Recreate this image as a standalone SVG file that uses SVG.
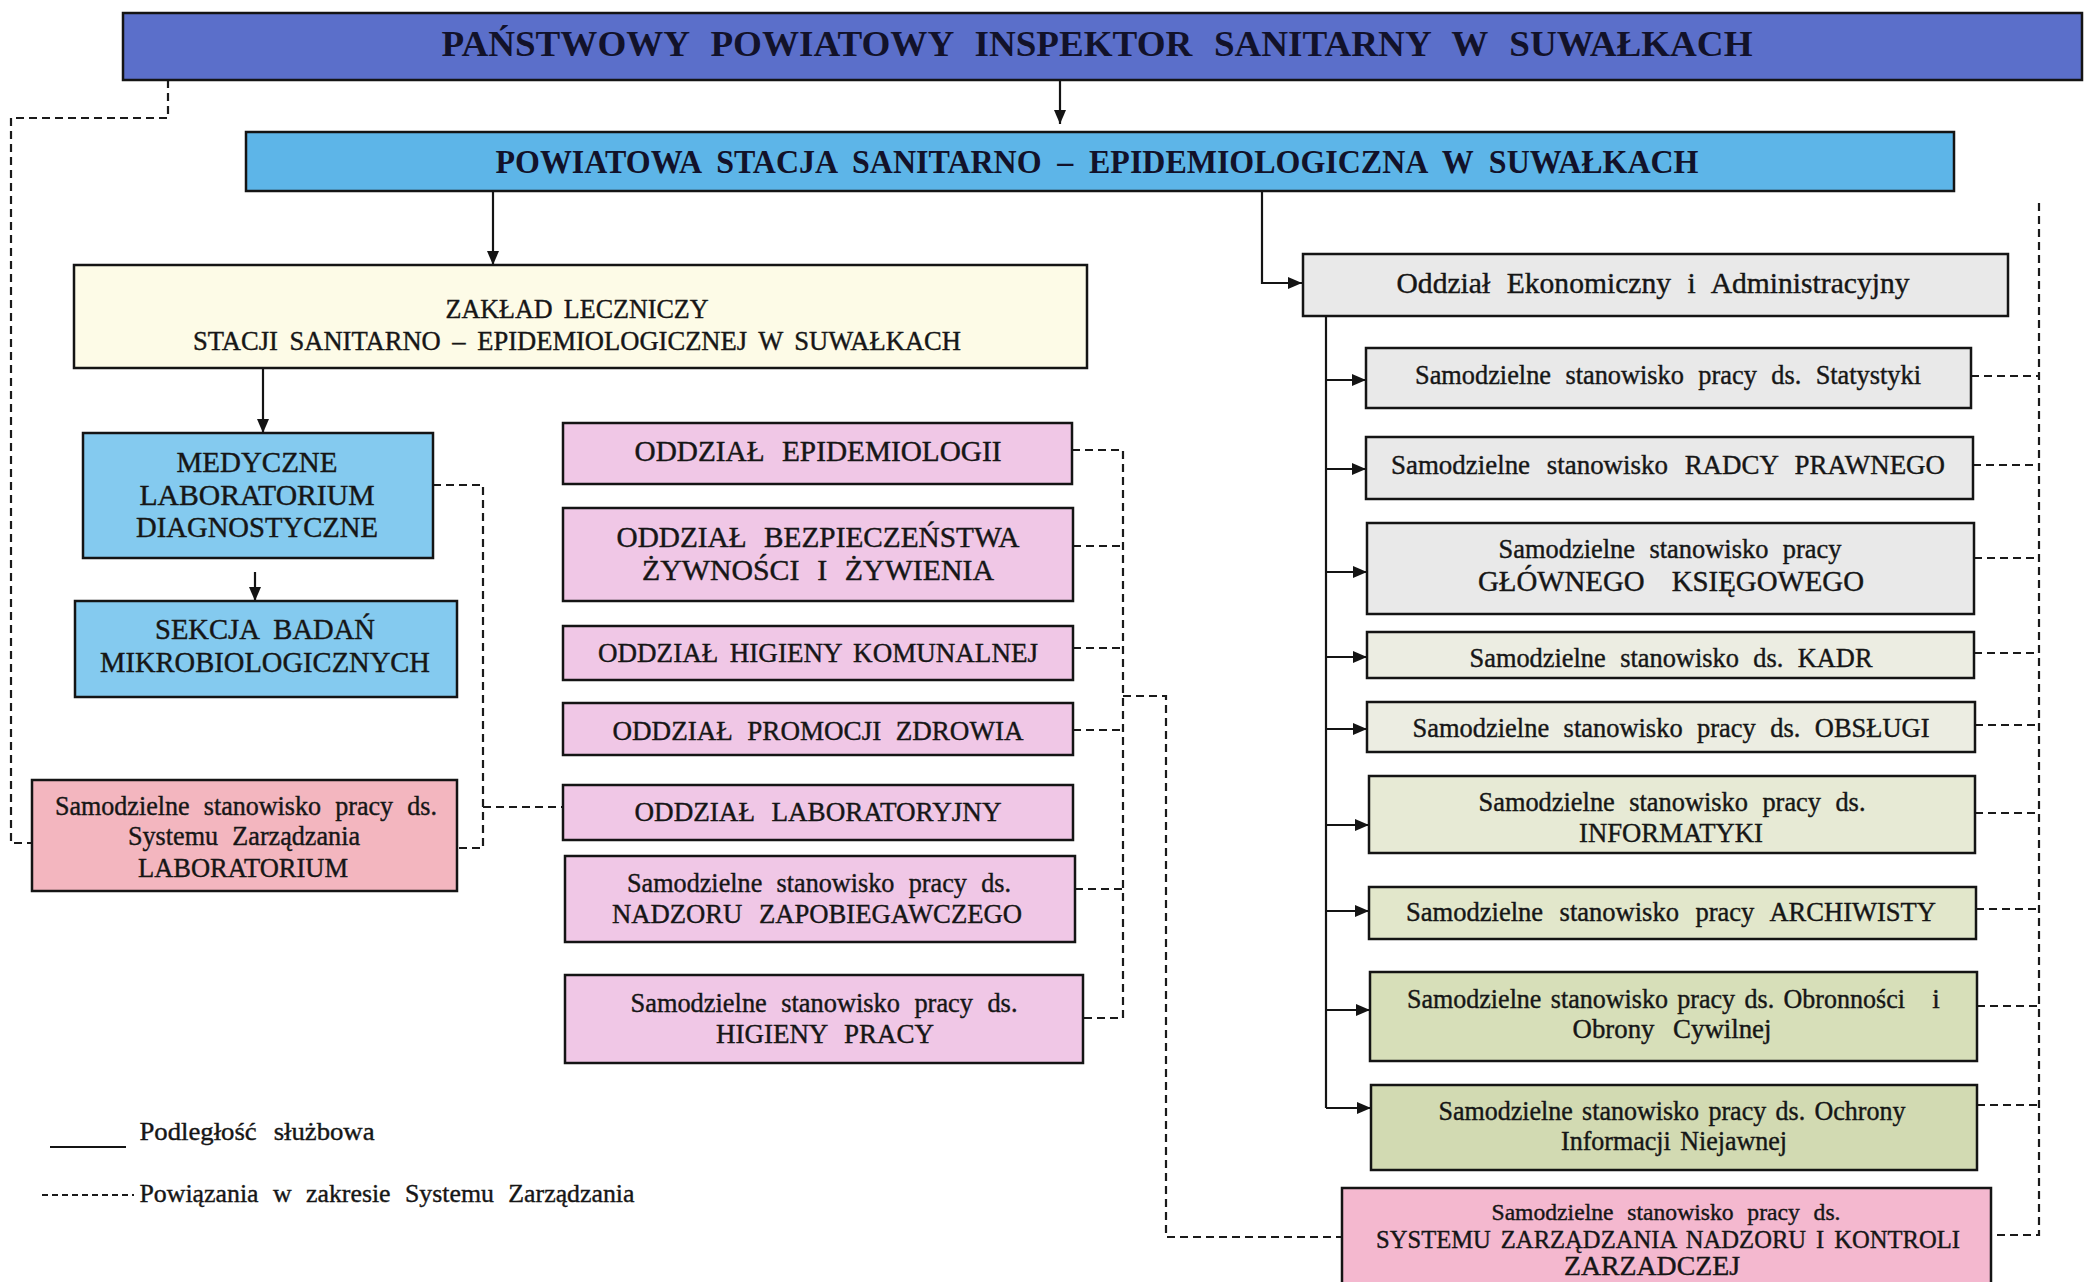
<svg xmlns="http://www.w3.org/2000/svg" width="2084" height="1282" viewBox="0 0 2084 1282">
<style>
  .box{stroke:#141414;stroke-width:2.5}
  .t{font-family:"Liberation Serif","Times New Roman",serif;fill:#161616;stroke:#161616;stroke-width:0.4;text-anchor:middle;word-spacing:8px}
  .b{font-weight:bold;fill:#12122a;stroke:none}
  .solid{fill:none;stroke:#141414;stroke-width:2.2}
  .dash{fill:none;stroke:#1a1a1a;stroke-width:2.2;stroke-dasharray:8 5}
  .blue1{fill:#5b6fca}
  .blue2{fill:#5db5e8}
  .blue3{fill:#84caef}
  .cream{fill:#fdfbe7}
  .salmon{fill:#f3b6bf}
  .lilac{fill:#f0c7e6}
  .gray{fill:#e9e9e9}
  .gy1{fill:#ecede2}
  .gy2{fill:#e7ead5}
  .gy3{fill:#e2e7cb}
  .gy4{fill:#d7dfb9}
  .gy5{fill:#d2dab2}
  .pink{fill:#f4b8cf}
</style>
<defs>
  <marker id="ah" markerUnits="userSpaceOnUse" markerWidth="14" markerHeight="12" refX="14" refY="6" orient="auto">
    <path d="M0,0 L14,6 L0,12 z" fill="#141414"/>
  </marker>
</defs>
<rect width="2084" height="1282" fill="#ffffff"/>

<g id="connectors">
  <path class="solid" d="M1060 80 V124" marker-end="url(#ah)"/>
  <path class="solid" d="M493 191 V265" marker-end="url(#ah)"/>
  <path class="solid" d="M1262 191 V283 H1302" marker-end="url(#ah)"/>
  <path class="solid" d="M263 368 V433" marker-end="url(#ah)"/>
  <path class="solid" d="M255 572 V601" marker-end="url(#ah)"/>
  <path class="solid" d="M1326 316 V1108"/>
  <path class="solid" d="M1326 380 H1366" marker-end="url(#ah)"/>
  <path class="solid" d="M1326 469 H1366" marker-end="url(#ah)"/>
  <path class="solid" d="M1326 572 H1367" marker-end="url(#ah)"/>
  <path class="solid" d="M1326 657 H1367" marker-end="url(#ah)"/>
  <path class="solid" d="M1326 729 H1367" marker-end="url(#ah)"/>
  <path class="solid" d="M1326 825 H1369" marker-end="url(#ah)"/>
  <path class="solid" d="M1326 911 H1369" marker-end="url(#ah)"/>
  <path class="solid" d="M1326 1010 H1370" marker-end="url(#ah)"/>
  <path class="solid" d="M1326 1108 H1371" marker-end="url(#ah)"/>

  <path class="dash" d="M168 80 V118 H11 V843 H32"/>
  <path class="dash" d="M433 485 H483 V848 H457"/>
  <path class="dash" d="M483 807 H563"/>
  <path class="dash" d="M1072 450 H1123 V1018 H1083"/>
  <path class="dash" d="M1073 546 H1123"/>
  <path class="dash" d="M1073 648 H1123"/>
  <path class="dash" d="M1073 730 H1123"/>
  <path class="dash" d="M1075 889 H1123"/>
  <path class="dash" d="M1123 696 H1166 V1237 H1342"/>
  <path class="dash" d="M2039 203 V1235 H1991"/>
  <path class="dash" d="M1971 376 H2039"/>
  <path class="dash" d="M1973 465 H2039"/>
  <path class="dash" d="M1974 558 H2039"/>
  <path class="dash" d="M1974 653 H2039"/>
  <path class="dash" d="M1975 725 H2039"/>
  <path class="dash" d="M1975 813 H2039"/>
  <path class="dash" d="M1976 909 H2039"/>
  <path class="dash" d="M1977 1006 H2039"/>
  <path class="dash" d="M1977 1105 H2039"/>
</g>

<g id="n-ppis">
  <rect class="box blue1" x="123" y="13" width="1959" height="67"/>
  <text class="t b" x="1097" y="56" font-size="36" style="word-spacing:12px" textLength="1311" lengthAdjust="spacingAndGlyphs">PAŃSTWOWY POWIATOWY INSPEKTOR SANITARNY W SUWAŁKACH</text>
</g>
<g id="n-psse">
  <rect class="box blue2" x="246" y="132" width="1708" height="59"/>
  <text class="t b" x="1097" y="173" font-size="33" style="word-spacing:8px" textLength="1203" lengthAdjust="spacingAndGlyphs">POWIATOWA STACJA SANITARNO – EPIDEMIOLOGICZNA W SUWAŁKACH</text>
</g>
<g id="n-zaklad">
  <rect class="box cream" x="74" y="265" width="1013" height="103"/>
  <text class="t" x="577" y="318" font-size="27" style="word-spacing:5px" textLength="263" lengthAdjust="spacingAndGlyphs">ZAKŁAD LECZNICZY</text>
  <text class="t" x="577" y="350" font-size="27" style="word-spacing:5px" textLength="768" lengthAdjust="spacingAndGlyphs">STACJI SANITARNO – EPIDEMIOLOGICZNEJ W SUWAŁKACH</text>
</g>
<g id="n-mld">
  <rect class="box blue3" x="83" y="433" width="350" height="125"/>
  <text class="t" x="257" y="472" font-size="29" textLength="161" lengthAdjust="spacingAndGlyphs">MEDYCZNE</text>
  <text class="t" x="257" y="505" font-size="29" textLength="235" lengthAdjust="spacingAndGlyphs">LABORATORIUM</text>
  <text class="t" x="257" y="537" font-size="29" textLength="242" lengthAdjust="spacingAndGlyphs">DIAGNOSTYCZNE</text>
</g>
<g id="n-sbm">
  <rect class="box blue3" x="75" y="601" width="382" height="96"/>
  <text class="t" x="265" y="639" font-size="29" textLength="220" lengthAdjust="spacingAndGlyphs">SEKCJA BADAŃ</text>
  <text class="t" x="265" y="672" font-size="29" textLength="330" lengthAdjust="spacingAndGlyphs">MIKROBIOLOGICZNYCH</text>
</g>
<g id="n-szl">
  <rect class="box salmon" x="32" y="780" width="425" height="111"/>
  <text class="t" x="246" y="815" font-size="27" textLength="382" lengthAdjust="spacingAndGlyphs">Samodzielne stanowisko pracy ds.</text>
  <text class="t" x="244" y="845" font-size="27" textLength="232" lengthAdjust="spacingAndGlyphs">Systemu Zarządzania</text>
  <text class="t" x="243" y="877" font-size="27" textLength="210" lengthAdjust="spacingAndGlyphs">LABORATORIUM</text>
</g>
<g id="n-epi">
  <rect class="box lilac" x="563" y="423" width="509" height="61"/>
  <text class="t" x="818" y="461" font-size="29" style="word-spacing:10px" textLength="367" lengthAdjust="spacingAndGlyphs">ODDZIAŁ EPIDEMIOLOGII</text>
</g>
<g id="n-bez">
  <rect class="box lilac" x="563" y="508" width="510" height="93"/>
  <text class="t" x="818" y="547" font-size="29" style="word-spacing:10px" textLength="403" lengthAdjust="spacingAndGlyphs">ODDZIAŁ BEZPIECZEŃSTWA</text>
  <text class="t" x="818" y="580" font-size="29" style="word-spacing:10px" textLength="352" lengthAdjust="spacingAndGlyphs">ŻYWNOŚCI I ŻYWIENIA</text>
</g>
<g id="n-hk">
  <rect class="box lilac" x="563" y="626" width="510" height="54"/>
  <text class="t" x="818" y="662" font-size="28" style="word-spacing:5px" textLength="440" lengthAdjust="spacingAndGlyphs">ODDZIAŁ HIGIENY KOMUNALNEJ</text>
</g>
<g id="n-pz">
  <rect class="box lilac" x="563" y="703" width="510" height="52"/>
  <text class="t" x="818" y="740" font-size="28" style="word-spacing:8px" textLength="411" lengthAdjust="spacingAndGlyphs">ODDZIAŁ PROMOCJI ZDROWIA</text>
</g>
<g id="n-lab">
  <rect class="box lilac" x="563" y="785" width="510" height="55"/>
  <text class="t" x="818" y="821" font-size="28" style="word-spacing:10px" textLength="367" lengthAdjust="spacingAndGlyphs">ODDZIAŁ LABORATORYJNY</text>
</g>
<g id="n-nz">
  <rect class="box lilac" x="565" y="856" width="510" height="86"/>
  <text class="t" x="819" y="892" font-size="27" textLength="384" lengthAdjust="spacingAndGlyphs">Samodzielne stanowisko pracy ds.</text>
  <text class="t" x="817" y="923" font-size="27" style="word-spacing:10px" textLength="410" lengthAdjust="spacingAndGlyphs">NADZORU ZAPOBIEGAWCZEGO</text>
</g>
<g id="n-hp">
  <rect class="box lilac" x="565" y="975" width="518" height="88"/>
  <text class="t" x="824" y="1012" font-size="27" textLength="387" lengthAdjust="spacingAndGlyphs">Samodzielne stanowisko pracy ds.</text>
  <text class="t" x="825" y="1043" font-size="27" style="word-spacing:10px" textLength="218" lengthAdjust="spacingAndGlyphs">HIGIENY PRACY</text>
</g>
<g id="n-oea">
  <rect class="box gray" x="1303" y="254" width="705" height="62"/>
  <text class="t" x="1653" y="293" font-size="29" style="word-spacing:9px" textLength="513" lengthAdjust="spacingAndGlyphs">Oddział Ekonomiczny i Administracyjny</text>
</g>
<g id="n-stat">
  <rect class="box gray" x="1366" y="348" width="605" height="60"/>
  <text class="t" x="1668" y="384" font-size="27" textLength="506" lengthAdjust="spacingAndGlyphs">Samodzielne stanowisko pracy ds. Statystyki</text>
</g>
<g id="n-rp">
  <rect class="box gray" x="1366" y="437" width="607" height="62"/>
  <text class="t" x="1668" y="474" font-size="27" style="word-spacing:10px" textLength="554" lengthAdjust="spacingAndGlyphs">Samodzielne stanowisko RADCY PRAWNEGO</text>
</g>
<g id="n-gk">
  <rect class="box gray" x="1367" y="523" width="607" height="91"/>
  <text class="t" x="1670" y="558" font-size="27" textLength="343" lengthAdjust="spacingAndGlyphs">Samodzielne stanowisko pracy</text>
  <text class="t" x="1671" y="591" font-size="29" style="word-spacing:20px" textLength="386" lengthAdjust="spacingAndGlyphs">GŁÓWNEGO KSIĘGOWEGO</text>
</g>
<g id="n-kadr">
  <rect class="box gy1" x="1367" y="632" width="607" height="46"/>
  <text class="t" x="1671" y="667" font-size="27" textLength="403" lengthAdjust="spacingAndGlyphs">Samodzielne stanowisko ds. KADR</text>
</g>
<g id="n-obs">
  <rect class="box gy1" x="1367" y="702" width="608" height="50"/>
  <text class="t" x="1671" y="737" font-size="27" textLength="517" lengthAdjust="spacingAndGlyphs">Samodzielne stanowisko pracy ds. OBSŁUGI</text>
</g>
<g id="n-inf">
  <rect class="box gy2" x="1369" y="776" width="606" height="77"/>
  <text class="t" x="1672" y="811" font-size="27" textLength="387" lengthAdjust="spacingAndGlyphs">Samodzielne stanowisko pracy ds.</text>
  <text class="t" x="1671" y="842" font-size="27" textLength="184" lengthAdjust="spacingAndGlyphs">INFORMATYKI</text>
</g>
<g id="n-arch">
  <rect class="box gy3" x="1369" y="887" width="607" height="52"/>
  <text class="t" x="1671" y="921" font-size="27" style="word-spacing:10px" textLength="530" lengthAdjust="spacingAndGlyphs">Samodzielne stanowisko pracy ARCHIWISTY</text>
</g>
<g id="n-obr">
  <rect class="box gy4" x="1370" y="972" width="607" height="89"/>
  <text class="t" x="1656" y="1008" font-size="27" style="word-spacing:3px" textLength="498" lengthAdjust="spacingAndGlyphs">Samodzielne stanowisko pracy ds. Obronności</text>
  <text class="t" x="1936" y="1008" font-size="27">i</text>
  <text class="t" x="1672" y="1038" font-size="27" style="word-spacing:12px" textLength="199" lengthAdjust="spacingAndGlyphs">Obrony Cywilnej</text>
</g>
<g id="n-och">
  <rect class="box gy5" x="1371" y="1085" width="606" height="85"/>
  <text class="t" x="1672" y="1120" font-size="27" style="word-spacing:3px" textLength="467" lengthAdjust="spacingAndGlyphs">Samodzielne stanowisko pracy ds. Ochrony</text>
  <text class="t" x="1674" y="1150" font-size="27" style="word-spacing:3px" textLength="226" lengthAdjust="spacingAndGlyphs">Informacji Niejawnej</text>
</g>
<g id="n-szn">
  <rect class="box pink" x="1342" y="1188" width="649" height="110"/>
  <text class="t" x="1666" y="1220" font-size="24" textLength="349" lengthAdjust="spacingAndGlyphs">Samodzielne stanowisko pracy ds.</text>
  <text class="t" x="1668" y="1248" font-size="26" style="word-spacing:4px" textLength="584" lengthAdjust="spacingAndGlyphs">SYSTEMU ZARZĄDZANIA NADZORU I KONTROLI</text>
  <text class="t" x="1652" y="1275" font-size="27" textLength="176" lengthAdjust="spacingAndGlyphs">ZARZADCZEJ</text>
</g>

<g id="legend">
  <path class="solid" d="M50 1147 H126"/>
  <text class="t" x="257" y="1140" font-size="26" style="word-spacing:10px" textLength="235" lengthAdjust="spacingAndGlyphs">Podległość służbowa</text>
  <path class="dash" d="M42 1195 H134" style="stroke-dasharray:6 4"/>
  <text class="t" x="387" y="1202" font-size="26" textLength="495" lengthAdjust="spacingAndGlyphs">Powiązania w zakresie Systemu Zarządzania</text>
</g>
</svg>
